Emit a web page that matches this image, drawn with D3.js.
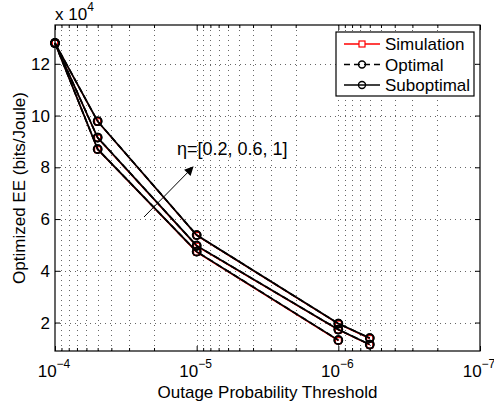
<!DOCTYPE html>
<html>
<head>
<meta charset="utf-8">
<script src="https://cdn.jsdelivr.net/npm/d3@7"></script>
<style>
  body { margin: 0; background: #fff; }
  svg { font-family: "Liberation Sans", Arial, sans-serif; }
</style>
</head>
<body>
<svg id="chart" width="494" height="405"></svg>
<script>
// outage probability thresholds (x) and EE values in units of 1e4 bits/Joule
const thresholds = [1e-4, 5e-5, 1e-5, 1e-6, 6e-7];
const etas = [0.2, 0.6, 1];
const suboptimal = [
    [12.8, 8.70, 4.74, 1.32],
    [12.8, 9.15, 4.97, 1.73, 1.15],
    [12.8, 9.78, 5.38, 1.96, 1.40]
];
const optimal = [
    [12.8, 8.70, 4.74, 1.32],
    [12.8, 9.15, 4.97, 1.73, 1.15],
    [12.8, 9.78, 5.38, 1.96, 1.40]
];
const simulation = [
    [12.79, 8.68, 4.72, 1.30],
    [12.79, 9.13, 4.95, 1.71, 1.13],
    [12.79, 9.76, 5.36, 1.94, 1.38]
];
const yTicks = [2, 4, 6, 8, 10, 12];
const xTicks = [1e-4, 1e-5, 1e-6, 1e-7];
const legendItems = ["Simulation", "Optimal", "Suboptimal"];

const svg = d3.select("#chart");
const plotLeft = 55, plotRight = 480, plotTop = 25, plotBottom = 351;

const x = d3.scaleLog().domain([1e-4, 1e-7]).range([plotLeft, plotRight]);
const y = d3.scaleLinear().domain([0.9, 13.5]).range([plotBottom, plotTop]);

// minor x ticks (log)
const minorX = [];
[1e-5, 1e-6, 1e-7].forEach(function (d) {
    for (let k = 2; k <= 9; k++) minorX.push(d * k);
});

// grid
const grid = svg.append("g")
    .attr("stroke", "#000")
    .attr("stroke-opacity", 0.6)
    .attr("stroke-width", 1)
    .attr("stroke-dasharray", "1,4");

grid.selectAll("line.vx")
    .data(minorX.concat(xTicks.slice(1, 3)))
    .enter()
    .append("line")
    .attr("x1", function (d) { return Math.round(x(d)) + 0.5; })
    .attr("x2", function (d) { return Math.round(x(d)) + 0.5; })
    .attr("y1", plotTop)
    .attr("y2", plotBottom);

grid.selectAll("line.hy")
    .data(yTicks)
    .enter()
    .append("line")
    .attr("y1", function (d) { return Math.round(y(d)) + 0.5; })
    .attr("y2", function (d) { return Math.round(y(d)) + 0.5; })
    .attr("x1", plotLeft)
    .attr("x2", plotRight);

// axes (ticks inward, MATLAB style)
function styleAxis(g) {
    g.select(".domain").remove();
    g.selectAll("line").attr("stroke", "#000");
    g.selectAll("text").remove();
}

svg.append("g")
    .attr("transform", "translate(0," + plotBottom + ")")
    .call(d3.axisBottom(x).tickValues(xTicks).tickSize(-5))
    .call(styleAxis);
svg.append("g")
    .attr("transform", "translate(0," + plotBottom + ")")
    .call(d3.axisBottom(x).tickValues(minorX).tickSize(-3))
    .call(styleAxis);
svg.append("g")
    .attr("transform", "translate(0," + plotTop + ")")
    .call(d3.axisTop(x).tickValues(xTicks).tickSize(-5))
    .call(styleAxis);
svg.append("g")
    .attr("transform", "translate(0," + plotTop + ")")
    .call(d3.axisTop(x).tickValues(minorX).tickSize(-3))
    .call(styleAxis);
svg.append("g")
    .attr("transform", "translate(" + plotLeft + ",0)")
    .call(d3.axisLeft(y).tickValues(yTicks).tickSize(-5))
    .call(styleAxis);
svg.append("g")
    .attr("transform", "translate(" + plotRight + ",0)")
    .call(d3.axisRight(y).tickValues(yTicks).tickSize(-5))
    .call(styleAxis);

// y tick labels
svg.append("g")
    .selectAll("text")
    .data(yTicks)
    .enter()
    .append("text")
    .attr("x", plotLeft - 5)
    .attr("y", function (d) { return y(d) + 6; })
    .attr("text-anchor", "end")
    .attr("font-size", 17)
    .text(function (d) { return d; });

// x tick labels 10^n
const xl = svg.append("g")
    .selectAll("text")
    .data(xTicks)
    .enter()
    .append("text")
    .attr("x", function (d) { return x(d) - 1; })
    .attr("y", plotBottom + 26)
    .attr("text-anchor", "middle")
    .attr("font-size", 17);
xl.append("tspan").text("10");
xl.append("tspan")
    .attr("font-size", 12)
    .attr("dy", -9)
    .text(function (d) { return "\u2212" + Math.round(-Math.log10(d)); });

// axis labels
svg.append("text")
    .attr("x", (plotLeft + plotRight) / 2)
    .attr("y", 398)
    .attr("text-anchor", "middle")
    .attr("font-size", 17)
    .text("Outage Probability Threshold");

svg.append("text")
    .attr("transform", "translate(25," + (plotTop + plotBottom) / 2 + ") rotate(-90)")
    .attr("text-anchor", "middle")
    .attr("font-size", 17)
    .text("Optimized EE (bits/Joule)");

const mult = svg.append("text")
    .attr("x", 55)
    .attr("y", 20)
    .attr("font-size", 17);
mult.append("tspan").text("x 10");
mult.append("tspan").attr("font-size", 12).attr("dy", -9).text("4");

// series
const line = d3.line()
    .x(function (d, i) { return x(thresholds[i]); })
    .y(function (d) { return y(d); });

const plot = svg.append("g");

simulation.forEach(function (s) {
    plot.append("path")
        .attr("d", line(s))
        .attr("fill", "none")
        .attr("stroke", "#f00")
        .attr("stroke-width", 1.2);
    plot.selectAll(null)
        .data(s)
        .enter()
        .append("rect")
        .attr("x", function (d, i) { return x(thresholds[i]) - 3; })
        .attr("y", function (d) { return y(d) - 3; })
        .attr("width", 6)
        .attr("height", 6)
        .attr("fill", "none")
        .attr("stroke", "#f00")
        .attr("stroke-width", 1.2);
});

suboptimal.forEach(function (s) {
    plot.append("path")
        .attr("d", line(s))
        .attr("fill", "none")
        .attr("stroke", "#000")
        .attr("stroke-width", 1.7);
});

optimal.forEach(function (s) {
    plot.append("path")
        .attr("d", line(s))
        .attr("fill", "none")
        .attr("stroke", "#000")
        .attr("stroke-width", 1.7)
        .attr("stroke-dasharray", "6,4");
});

suboptimal.concat(optimal).forEach(function (s) {
    plot.selectAll(null)
        .data(s)
        .enter()
        .append("circle")
        .attr("cx", function (d, i) { return x(thresholds[i]); })
        .attr("cy", function (d) { return y(d); })
        .attr("r", 4)
        .attr("fill", "none")
        .attr("stroke", "#000")
        .attr("stroke-width", 1.7);
});

// box
svg.append("rect")
    .attr("x", plotLeft)
    .attr("y", plotTop)
    .attr("width", plotRight - plotLeft)
    .attr("height", plotBottom - plotTop)
    .attr("fill", "none")
    .attr("stroke", "#000")
    .attr("stroke-width", 1.2);

// annotation arrow
svg.append("defs").append("marker")
    .attr("id", "arrow")
    .attr("viewBox", "0 0 10 10")
    .attr("refX", 9)
    .attr("refY", 5)
    .attr("markerWidth", 11)
    .attr("markerHeight", 9)
    .attr("markerUnits", "userSpaceOnUse")
    .attr("orient", "auto")
    .append("path")
    .attr("d", "M0,0 L10,5 L0,10 Z")
    .attr("fill", "#000");

svg.append("line")
    .attr("x1", 144)
    .attr("y1", 217)
    .attr("x2", 193)
    .attr("y2", 167)
    .attr("stroke", "#000")
    .attr("stroke-width", 1)
    .attr("marker-end", "url(#arrow)");

svg.append("text")
    .attr("x", 177)
    .attr("y", 155)
    .attr("font-size", 18)
    .text("\u03b7=[" + etas.join(", ") + "]");

// legend
const lg = svg.append("g").attr("transform", "translate(336,32)");
lg.append("rect")
    .attr("width", 138)
    .attr("height", 64)
    .attr("fill", "#fff")
    .attr("stroke", "#000")
    .attr("stroke-width", 1.2);

const rows = lg.selectAll("g")
    .data(legendItems)
    .enter()
    .append("g")
    .attr("transform", function (d, i) { return "translate(0," + (12 + i * 20.5) + ")"; });

rows.append("line")
    .attr("x1", 8)
    .attr("x2", 44)
    .attr("stroke", function (d, i) { return i === 0 ? "#f00" : "#000"; })
    .attr("stroke-width", 1.3)
    .attr("stroke-dasharray", function (d, i) { return i === 1 ? "6,4" : null; });

rows.filter(function (d, i) { return i === 0; })
    .append("rect")
    .attr("x", 23)
    .attr("y", -3)
    .attr("width", 6)
    .attr("height", 6)
    .attr("fill", "#fff")
    .attr("stroke", "#f00")
    .attr("stroke-width", 1.2);

rows.filter(function (d, i) { return i > 0; })
    .append("circle")
    .attr("cx", 26)
    .attr("r", 3.5)
    .attr("fill", "none")
    .attr("stroke", "#000")
    .attr("stroke-width", 1.4);

rows.append("text")
    .attr("x", 49)
    .attr("y", 6)
    .attr("font-size", 17)
    .text(function (d) { return d; });
</script>
</body>
</html>
